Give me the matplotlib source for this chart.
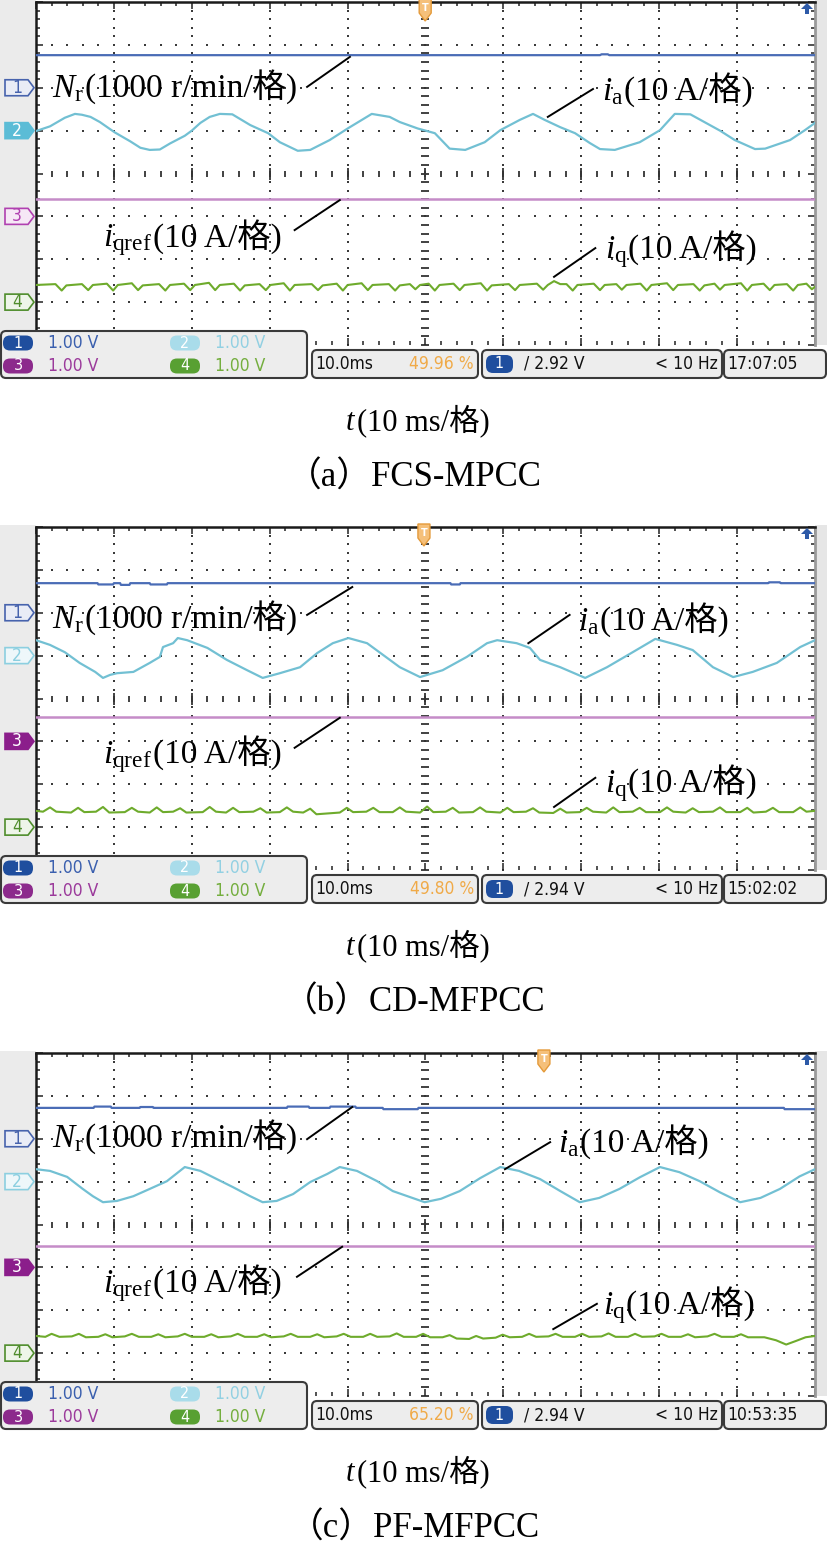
import numpy as np
import matplotlib.pyplot as plt
import matplotlib.transforms as mtransforms
from matplotlib.patches import Polygon, FancyBboxPatch, Rectangle
from matplotlib import font_manager

plt.rcParams['mathtext.fontset'] = 'custom'
plt.rcParams['mathtext.rm'] = 'Liberation Serif'
plt.rcParams['mathtext.it'] = 'Liberation Serif:italic'

SERIF = ['Liberation Serif', 'Noto Sans CJK SC']
_fonts = font_manager.fontManager.ttflist
if any(f.name == 'Liberation Sans Narrow' for f in _fonts):
    NARROW, STRETCH, STAT_FS = ['Liberation Sans Narrow'], 'normal', 13.5
elif any(f.name == 'DejaVu Sans' and f.stretch == 'condensed' for f in _fonts):
    NARROW, STRETCH, STAT_FS = ['DejaVu Sans'], 'condensed', 12.5
else:
    NARROW, STRETCH, STAT_FS = ['Liberation Sans'], 'normal', 12

captions = ['（a）FCS-MPCC', '（b）CD-MFPCC', '（c）PF-MFPCC']
trig_pos = [49.96, 49.80, 65.20]          # trigger position, % of screen (= ms)
trig_level = ['2.92 V', '2.94 V', '2.94 V']
clock = ['17:07:05', '15:02:02', '10:53:35']
time_div = '10.0ms'
ch_scale = ['1.00 V', '1.00 V', '1.00 V', '1.00 V']
ch_offset = [2, 1, -1, -3]                 # channel ground markers (div)
ch3_level = [-0.60, -0.43, -0.50]          # i_qref (div)

# time in ms, value in div
ch1 = [
    [(0, 2.76), (72.4, 2.76), (72.6, 2.78), (73.4, 2.78), (73.6, 2.76), (100, 2.76)],
    [(0, 2.69), (7.9, 2.69), (8.0, 2.66), (9.9, 2.66), (10.0, 2.69), (10.8, 2.69),
     (10.9, 2.65), (12.0, 2.65), (12.1, 2.69), (14.6, 2.69), (14.7, 2.66), (16.8, 2.66),
     (16.9, 2.69), (53.2, 2.69), (53.3, 2.66), (54.4, 2.66), (54.5, 2.69), (94.0, 2.69),
     (94.1, 2.71), (95.5, 2.71), (95.6, 2.69), (100, 2.69)],
    [(0, 2.72), (7.4, 2.72), (7.5, 2.75), (9.6, 2.75), (9.7, 2.72), (13.3, 2.72),
     (13.4, 2.74), (15.0, 2.74), (15.1, 2.72), (32.2, 2.72), (32.3, 2.75), (35.0, 2.75),
     (35.1, 2.72), (37.7, 2.72), (37.8, 2.75), (41.0, 2.75), (41.1, 2.72), (44.5, 2.72),
     (44.6, 2.69), (49.0, 2.69), (49.1, 2.72), (96.0, 2.72), (96.1, 2.69), (100, 2.69)],
]

ch2 = [
    [(0, 0.99), (1.8, 1.10), (3.7, 1.30), (5.0, 1.39), (5.9, 1.37), (7.0, 1.32), (8.2, 1.20),
     (10.1, 0.96), (12.1, 0.75), (13.4, 0.60), (14.6, 0.55), (15.9, 0.56), (17.2, 0.70),
     (19.1, 0.88), (20.0, 1.00), (21.1, 1.18), (22.3, 1.32), (23.6, 1.39), (25.2, 1.38),
     (27.5, 1.13), (29.8, 0.94), (31.3, 0.73), (33.6, 0.53), (35.2, 0.55), (37.7, 0.78),
     (40.1, 1.06), (43.1, 1.39), (45.4, 1.32), (46.7, 1.20), (49.0, 1.05), (51.2, 0.94),
     (53.1, 0.58), (55.1, 0.55), (57.6, 0.73), (59.6, 1.01), (62.1, 1.25), (63.8, 1.39),
     (65.3, 1.25), (67.3, 1.08), (69.2, 0.94), (71.1, 0.71), (72.4, 0.57), (74.3, 0.55),
     (77.5, 0.73), (80.1, 1.01), (82.0, 1.39), (84.0, 1.38), (87.8, 1.00), (89.7, 0.78),
     (92.3, 0.57), (93.6, 0.58), (96.8, 0.78), (98.7, 1.01), (100, 1.18)],
    [(0, 1.36), (1.8, 1.25), (3.7, 1.08), (5.6, 0.83), (7.6, 0.62), (8.6, 0.48), (9.5, 0.55),
     (10.4, 0.59), (12.5, 0.62), (14.6, 0.83), (15.9, 0.97), (16.3, 1.20), (17.6, 1.29),
     (18.2, 1.41), (19.4, 1.36), (22.0, 1.18), (24.5, 0.90), (27.1, 0.66), (29.1, 0.48),
     (31.3, 0.59), (33.9, 0.73), (36.1, 1.06), (38.1, 1.29), (40.1, 1.41), (42.5, 1.29),
     (46.7, 0.73), (49.3, 0.50), (52.2, 0.66), (55.3, 0.97), (57.9, 1.29), (59.2, 1.36),
     (61.7, 1.29), (63.4, 1.18), (64.7, 0.90), (67.3, 0.73), (70.5, 0.48), (73.3, 0.73),
     (76.6, 1.08), (79.5, 1.39), (82.3, 1.25), (84.3, 1.13), (86.9, 0.73), (89.5, 0.50),
     (92.0, 0.62), (95.1, 0.83), (98.1, 1.20), (100, 1.36)],
    [(0, 1.29), (1.8, 1.25), (4.0, 1.11), (6.0, 0.83), (7.3, 0.66), (8.6, 0.52), (10.4, 0.55),
     (12.5, 0.66), (14.6, 0.83), (16.8, 1.01), (19.1, 1.34), (21.1, 1.25), (23.2, 1.06),
     (25.3, 0.87), (27.5, 0.66), (29.1, 0.52), (30.9, 0.55), (33.0, 0.71), (35.2, 0.99),
     (37.4, 1.18), (39.0, 1.34), (41.2, 1.25), (43.8, 1.01), (45.8, 0.78), (48.0, 0.64),
     (49.9, 0.52), (52.0, 0.60), (54.4, 0.78), (57.0, 1.08), (59.6, 1.34), (62.0, 1.25),
     (64.7, 1.06), (67.3, 0.78), (69.8, 0.52), (72.3, 0.62), (74.9, 0.83), (77.5, 1.10),
     (80.1, 1.34), (82.6, 1.22), (85.2, 1.01), (87.8, 0.75), (90.4, 0.52), (93.0, 0.62),
     (95.5, 0.83), (98.0, 1.12), (100, 1.29)],
]

ch4 = [
    [(0, -2.60), (2.5, -2.58), (3.3, -2.73), (3.9, -2.61), (5.9, -2.58), (6.7, -2.72),
     (7.3, -2.60), (9.1, -2.57), (9.9, -2.73), (10.5, -2.60), (12.3, -2.56), (13.1, -2.72),
     (13.7, -2.61), (15.8, -2.58), (16.6, -2.73), (17.2, -2.60), (19.0, -2.57), (19.8, -2.72),
     (20.4, -2.60), (22.2, -2.55), (23.0, -2.72), (23.6, -2.60), (25.4, -2.57), (26.2, -2.73),
     (26.8, -2.61), (28.7, -2.58), (29.5, -2.72), (30.1, -2.60), (31.8, -2.56), (32.6, -2.73),
     (33.2, -2.60), (35.4, -2.58), (36.2, -2.72), (36.8, -2.61), (38.6, -2.57), (39.4, -2.73),
     (40.0, -2.60), (41.8, -2.56), (42.6, -2.72), (43.2, -2.60), (45.3, -2.58), (46.1, -2.73),
     (46.7, -2.61), (48.0, -2.58), (48.7, -2.70), (49.3, -2.60), (50.4, -2.57), (51.2, -2.73),
     (51.8, -2.60), (53.6, -2.57), (54.4, -2.72), (55.0, -2.60), (57.1, -2.56), (57.9, -2.73),
     (58.5, -2.61), (60.7, -2.58), (61.5, -2.72), (62.1, -2.60), (64.3, -2.57), (65.1, -2.71),
     (65.7, -2.60), (66.5, -2.51), (67.3, -2.58), (68.1, -2.58), (68.9, -2.73), (69.5, -2.60),
     (71.6, -2.57), (72.4, -2.72), (73.0, -2.60), (74.5, -2.58), (75.2, -2.71), (75.8, -2.60),
     (77.6, -2.57), (78.4, -2.73), (79.0, -2.60), (81.0, -2.56), (81.8, -2.72), (82.4, -2.60),
     (84.4, -2.58), (85.2, -2.73), (85.8, -2.61), (87.1, -2.57), (87.8, -2.71), (88.4, -2.60),
     (90.5, -2.56), (91.3, -2.73), (91.9, -2.60), (93.4, -2.57), (94.2, -2.72), (94.8, -2.60),
     (96.4, -2.58), (97.2, -2.73), (97.8, -2.60), (98.9, -2.57), (99.6, -2.70), (100, -2.64)],
    [(0, -2.62), (0.9, -2.64), (1.8, -2.54), (2.6, -2.64), (4.5, -2.66), (5.4, -2.55),
     (6.2, -2.65), (7.7, -2.64), (8.6, -2.53), (9.4, -2.66), (11.4, -2.65), (12.3, -2.55),
     (13.1, -2.64), (14.6, -2.66), (15.5, -2.54), (16.3, -2.65), (17.6, -2.64), (18.5, -2.56),
     (19.3, -2.66), (21.4, -2.65), (22.3, -2.53), (23.1, -2.64), (24.4, -2.66), (25.3, -2.55),
     (26.1, -2.65), (27.9, -2.64), (28.8, -2.56), (29.6, -2.66), (31.3, -2.65), (32.2, -2.54),
     (33.0, -2.64), (34.3, -2.66), (35.2, -2.57), (36.0, -2.70), (37.5, -2.68), (39.0, -2.66),
     (39.9, -2.55), (40.7, -2.65), (42.4, -2.64), (43.3, -2.55), (44.1, -2.65), (45.8, -2.65),
     (46.7, -2.54), (47.5, -2.64), (49.3, -2.66), (50.2, -2.52), (51.0, -2.65), (52.6, -2.64),
     (53.5, -2.55), (54.3, -2.66), (56.1, -2.65), (57.0, -2.54), (57.8, -2.64), (59.6, -2.66),
     (60.5, -2.55), (61.3, -2.65), (62.9, -2.64), (63.8, -2.56), (64.6, -2.66), (66.4, -2.67),
     (67.3, -2.57), (68.1, -2.66), (69.8, -2.65), (70.7, -2.55), (71.5, -2.64), (73.2, -2.66),
     (74.1, -2.54), (74.9, -2.65), (76.6, -2.64), (77.5, -2.55), (78.3, -2.65), (80.1, -2.65),
     (81.0, -2.54), (81.8, -2.64), (83.4, -2.66), (84.3, -2.56), (85.1, -2.65), (86.9, -2.64),
     (87.8, -2.54), (88.6, -2.65), (90.4, -2.65), (91.3, -2.55), (92.1, -2.66), (93.7, -2.64),
     (94.6, -2.55), (95.4, -2.65), (97.2, -2.65), (98.1, -2.54), (98.9, -2.64), (100, -2.62)],
    [(0, -2.60), (1.2, -2.62), (2.0, -2.55), (3.0, -2.62), (4.6, -2.61), (5.5, -2.55),
     (6.4, -2.63), (8.0, -2.62), (8.9, -2.56), (9.8, -2.63), (11.4, -2.61), (12.3, -2.55),
     (13.2, -2.62), (14.8, -2.62), (15.7, -2.56), (16.6, -2.63), (18.2, -2.61), (19.1, -2.55),
     (20.0, -2.62), (21.6, -2.62), (22.5, -2.56), (23.4, -2.63), (25.0, -2.61), (25.9, -2.55),
     (26.8, -2.62), (28.4, -2.62), (29.3, -2.56), (30.2, -2.63), (31.8, -2.61), (32.7, -2.55),
     (33.6, -2.62), (35.2, -2.62), (36.1, -2.56), (37.0, -2.63), (38.6, -2.61), (39.5, -2.55),
     (40.4, -2.62), (42.0, -2.62), (42.9, -2.55), (43.8, -2.62), (45.4, -2.61), (46.3, -2.54),
     (47.2, -2.62), (48.8, -2.62), (49.7, -2.55), (50.6, -2.63), (52.2, -2.63), (53.1, -2.58),
     (54.0, -2.66), (55.6, -2.67), (56.5, -2.60), (57.4, -2.66), (59.0, -2.64), (59.9, -2.57),
     (60.8, -2.63), (62.4, -2.62), (63.3, -2.55), (64.2, -2.62), (65.8, -2.61), (66.7, -2.55),
     (67.6, -2.62), (69.2, -2.62), (70.1, -2.55), (71.0, -2.62), (72.6, -2.61), (73.5, -2.54),
     (74.4, -2.62), (76.0, -2.62), (76.9, -2.55), (77.8, -2.62), (79.4, -2.61), (80.3, -2.55),
     (81.2, -2.62), (82.8, -2.62), (83.7, -2.56), (84.6, -2.63), (86.2, -2.61), (87.1, -2.55),
     (88.0, -2.62), (89.6, -2.62), (90.5, -2.56), (91.4, -2.63), (93.5, -2.63), (95.0, -2.70),
     (96.3, -2.80), (97.5, -2.72), (98.8, -2.63), (100, -2.60)],
]

# ---------------- layout (pixels of the 828 x 1544 page) ----------------
W, H = 828, 1544
tops = [2, 527, 1053]
X0, X1, PH = 36, 815, 343

fill_marker = [[False, True, False, False],
               [False, False, True, False],
               [False, False, True, False]]
edge_col = ['#4763ad', '#8ccfe0', '#b040b0', '#4f8d2c']
face_light = ['#e9ecf6', '#eef7fa', '#f6e8f6', '#eef5e9']
face_full = ['#2a52a0', '#5bbcd6', '#8b1e8b', '#559c30']
trace_col = ['#4a6cb6', '#72c0d3', '#c58cc8', '#6eab2c']
pill_col = ['#1f4e9e', '#a9dcea', '#8c2a8c', '#58a032']
stat_txt = ['#3a5fae', '#92d0e2', '#9b3a9b', '#74ae3e']

lab_pos = [
    {'Nr': (2.05, 1.78), 'ia': (72.7, 1.71), 'iqref': (8.6, -1.70), 'iq': (73.0, -1.97)},
    {'Nr': (2.05, 1.64), 'ia': (69.6, 1.60), 'iqref': (8.6, -1.50), 'iq': (73.0, -2.18)},
    {'Nr': (2.05, 1.81), 'ia': (67.0, 1.69), 'iqref': (8.6, -1.57), 'iq': (72.8, -2.09)},
]
leaders = [
    {'Nr': ((34.8, 40.3), (2.02, 2.72)), 'ia': ((65.7, 71.5), (1.32, 1.97)),
     'iqref': ((33.2, 39.0), (-1.32, -0.62)), 'iq': ((66.5, 71.8), (-2.41, -1.74))},
    {'Nr': ((34.8, 40.6), (1.95, 2.60)), 'ia': ((63.2, 68.5), (1.29, 1.95)),
     'iqref': ((33.2, 39.0), (-1.15, -0.45)), 'iq': ((66.5, 71.8), (-2.53, -1.85))},
    {'Nr': ((34.8, 40.6), (1.99, 2.74)), 'ia': ((60.2, 66.0), (1.29, 1.92)),
     'iqref': ((33.5, 39.3), (-1.22, -0.52)), 'iq': ((66.4, 72.0), (-2.44, -1.85))},
]
heads = {'Nr': r'$N_\mathrm{r}$', 'ia': r'$i_\mathrm{a}$',
         'iqref': r'$i_\mathrm{qref}$', 'iq': r'$i_\mathrm{q}$'}
tails = {'Nr': '(1000 r/min/格)', 'ia': '(10 A/格)', 'iqref': '(10 A/格)', 'iq': '(10 A/格)'}

fig = plt.figure(figsize=(W / 100, H / 100), dpi=100)
fig.patch.set_facecolor('white')


def px_axes(z):
    a = fig.add_axes([0, 0, 1, 1], zorder=z)
    a.set_xlim(0, W)
    a.set_ylim(H, 0)
    a.axis('off')
    return a


bg = px_axes(0)
fg = px_axes(5)


def px_shape(ax, verts, anchor_trans, ax_, ay_, **kw):
    tr = (mtransforms.Affine2D().scale(1 / 100.) + fig.dpi_scale_trans +
          mtransforms.ScaledTranslation(ax_, ay_, anchor_trans))
    p = Polygon(verts, closed=True, transform=tr, clip_on=False, **kw)
    ax.add_artist(p)
    return p


def chain(ax, x, y, head, tail, size):
    t0 = ax.text(x, y, head, fontsize=size, family=SERIF, va='baseline', ha='left',
                 clip_on=False, zorder=6)
    ax.annotate(tail, xy=(1, y), xycoords=(t0, 'data'), xytext=(0.5, 0),
                textcoords='offset points', fontsize=size, family=SERIF,
                va='baseline', ha='left', annotation_clip=False, zorder=6)


def stat(x, y, s, ha='left', color='#111', size=None):
    fg.text(x, y, s, ha=ha, va='center', fontsize=size or STAT_FS, family=NARROW,
            fontstretch=STRETCH, color=color)


minor_y = np.arange(-4, 4.001, 0.2)
minor_x = np.arange(0, 100.001, 2)

for k in range(3):
    yt = tops[k]
    # grey side strips of the scope screen
    bg.add_patch(Rectangle((0, yt - 2), X0, PH + 2, facecolor='#ebebeb', edgecolor='none'))
    bg.add_patch(Rectangle((X1, yt - 2), W - X1, PH + 2, facecolor='#e6e6e6', edgecolor='none'))

    ax = fig.add_axes([X0 / W, 1 - (yt + PH) / H, (X1 - X0) / W, PH / H], zorder=1)
    ax.set_xlim(0, 100)
    ax.set_ylim(-4, 4)
    ax.set_facecolor('white')
    ax.set_xticks(np.arange(0, 101, 10))
    ax.set_xticks(minor_x, minor=True)
    ax.set_yticks(np.arange(-4, 5, 1))
    ax.set_yticks(minor_y, minor=True)
    ax.tick_params(which='both', direction='in', top=True, right=True, bottom=True, left=True,
                   labelbottom=False, labelleft=False, color='#222', width=1.1)
    ax.tick_params(which='major', length=5)
    ax.tick_params(which='minor', length=3)
    for s in ('left', 'top'):
        ax.spines[s].set_color('#1a1a1a')
        ax.spines[s].set_linewidth(1.8)
    ax.spines['right'].set_color('#9a9a9a')
    ax.spines['right'].set_linewidth(2)
    ax.spines['bottom'].set_visible(False)

    # dotted graticule
    for gx in (10, 20, 30, 40, 60, 70, 80, 90):
        ax.plot(np.full_like(minor_y, gx), minor_y, ls='none', marker='s', ms=1.6,
                mew=0, color='#3a3a3a', zorder=1)
    for gy in (-3, -2, -1, 1, 2, 3):
        ax.plot(minor_x, np.full_like(minor_x, gy), ls='none', marker='s', ms=1.6,
                mew=0, color='#3a3a3a', zorder=1)
    ax.plot(np.full_like(minor_y, 50), minor_y, ls='none', marker='_', ms=6, mew=1.3,
            color='#333', zorder=1)
    ax.plot(minor_x, np.zeros_like(minor_x), ls='none', marker='|', ms=5, mew=1.3,
            color='#333', zorder=1)
    ax.plot(np.arange(0, 101, 10), np.zeros(11), ls='none', marker='|', ms=9, mew=1.3,
            color='#333', zorder=1)

    # traces
    t1, v1 = np.array(ch1[k]).T
    ax.plot(t1, v1, color=trace_col[0], lw=1.6, zorder=3)
    t2, v2 = np.array(ch2[k]).T
    ax.plot(t2, v2, color=trace_col[1], lw=1.6, zorder=3)
    ax.plot([0, 100], [ch3_level[k]] * 2, color=trace_col[2], lw=1.8, zorder=3)
    t4, v4 = np.array(ch4[k]).T
    ax.plot(t4, v4, color=trace_col[3], lw=1.5, zorder=3)

    # channel ground markers on the left
    base = mtransforms.blended_transform_factory(ax.transAxes, ax.transData)
    for c in range(4):
        filled = fill_marker[k][c]
        px_shape(ax, [(-31, -8), (-8, -8), (-2, 0), (-8, 8), (-31, 8)], base, 0,
                 ch_offset[c], facecolor=face_full[c] if filled else face_light[c],
                 edgecolor=face_full[c] if filled else edge_col[c], lw=1.2, zorder=6)
        ax.text(0, ch_offset[c], str(c + 1),
                transform=mtransforms.offset_copy(base, fig=fig, x=-19, y=0, units='dots'),
                ha='center', va='center', fontsize=12.5, family=NARROW, fontstretch=STRETCH,
                color='white' if filled else edge_col[c], clip_on=False, zorder=7)

    # trigger position marker (top) and trigger level arrow (top right)
    tb = mtransforms.blended_transform_factory(ax.transData, ax.transAxes)
    px_shape(ax, [(-6, 3), (6, 3), (6, -11), (0, -19), (-6, -11)], tb, trig_pos[k], 1,
             facecolor='#f5c07a', edgecolor='#e49a3a', lw=1.0, zorder=7)
    ax.text(trig_pos[k], 1, 'T',
            transform=mtransforms.offset_copy(tb, fig=fig, x=0, y=-6, units='dots'),
            ha='center', va='center', fontsize=7, color='white', fontweight='bold',
            clip_on=False, zorder=8)
    px_shape(ax, [(-14, -7), (-8, -1), (-2, -7)], ax.transAxes, 1, 1,
             facecolor='#2d5aa8', edgecolor='none', zorder=7)
    px_shape(ax, [(-10, -7), (-6, -7), (-6, -12), (-10, -12)], ax.transAxes, 1, 1,
             facecolor='#2d5aa8', edgecolor='none', zorder=7)

    # labels and leader lines
    for key in ('Nr', 'ia', 'iqref', 'iq'):
        lx, ly = leaders[k][key]
        ax.plot(lx, ly, color='black', lw=1.4, zorder=5, clip_on=False)
        x, y = lab_pos[k][key]
        chain(ax, x, y, heads[key], tails[key], 24)

    # status bar
    fg.add_patch(FancyBboxPatch((1, yt + 329), 306, 47, boxstyle='round,pad=0,rounding_size=5',
                                facecolor='#ededed', edgecolor='#3a3a3a', lw=1.5))
    rows = [yt + 341, yt + 341, yt + 364, yt + 364]
    cols = [3, 170, 3, 170]
    for c in range(4):
        fg.add_patch(FancyBboxPatch((cols[c], rows[c] - 7.5), 30, 15,
                                    boxstyle='round,pad=0,rounding_size=7',
                                    facecolor=pill_col[c], edgecolor='none'))
        stat(cols[c] + 15, rows[c], str(c + 1), ha='center', color='white', size=11.5)
        stat(cols[c] + 45, rows[c], ch_scale[c], color=stat_txt[c])
    ym = yt + 362
    for bx, bw in ((312, 166), (482, 240), (724, 102)):
        fg.add_patch(FancyBboxPatch((bx, yt + 348), bw, 28, boxstyle='round,pad=0,rounding_size=5',
                                    facecolor='#ededed', edgecolor='#3a3a3a', lw=1.5))
    stat(315, ym, time_div)
    stat(474, ym, f'{trig_pos[k]:.2f} %', ha='right', color='#f0aa48')
    fg.add_patch(FancyBboxPatch((486, ym - 9), 27, 18, boxstyle='round,pad=0,rounding_size=7',
                                facecolor='#1f4e9e', edgecolor='none'))
    stat(499.5, ym, '1', ha='center', color='white', size=11.5)
    stat(524, ym, '/ ' + trig_level[k])
    stat(718, ym, '< 10 Hz', ha='right')
    stat(727, ym, clock[k])

    # captions
    chain(fg, 345, yt + 428, r'$t$', '(10 ms/格)', 22)
    fg.text(W / 2, yt + 485, captions[k], ha='center', va='baseline', fontsize=25, family=SERIF)

fig.savefig('out.png', dpi=100)
